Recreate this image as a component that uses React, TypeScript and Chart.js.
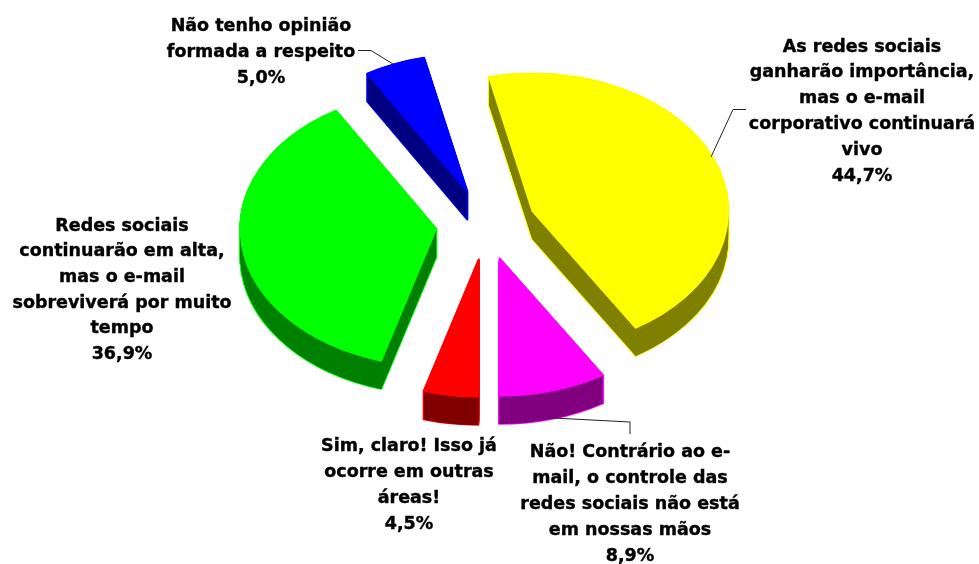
import React, { useEffect, useRef } from "react";
import { Chart, registerables } from "chart.js";

Chart.register(...registerables);

const categories: string[][] = [
  ["As redes sociais", "ganharão importância,", "mas o e-mail", "corporativo continuará", "vivo"],
  ["Não! Contrário ao e-", "mail, o controle das", "redes sociais não está", "em nossas mãos"],
  ["Sim, claro! Isso já", "ocorre em outras", "áreas!"],
  ["Redes sociais", "continuarão em alta,", "mas o e-mail", "sobreviverá por muito", "tempo"],
  ["Não tenho opinião", "formada a respeito"],
];
const values = [44.7, 8.9, 4.5, 36.9, 5.0];
const topColors = ["#ffff00", "#ff00ff", "#ff0000", "#00ff00", "#0000ff"];
const wallColors = ["#808000", "#800080", "#800000", "#008000", "#000080"];

// Layout of the projected pie
const RADIUS = 196;
const EXPLODE = 50;
const SQUASH = 0.703;
const DEPTH = 28;
const CENTER_X = 486;
const CENTER_Y = 224.5;
const FIRST_ANGLE = -12.8;

// Layout of the labels: centre x, first line y, line step
const labelPlaces = [
  { x: 862, y: 47, step: 25.8 },
  { x: 630, y: 452, step: 26.2 },
  { x: 409, y: 446, step: 26.3 },
  { x: 122, y: 226, step: 25.7 },
  { x: 261, y: 26, step: 26 },
];
const leaders = [
  [[711, 157], [733, 109.5], [746, 109.5]],
  [[553, 418], [630, 422], [630, 434]],
  null,
  null,
  [[358, 50.5], [371, 50.5], [393, 64]],
];

const FONT = "bold 17.5px 'DejaVu Sans'";

const pie3d = {
  id: "pie3d",
  beforeDatasetDraw(chart: any, args: any) {
    const { ctx, chartArea } = chart;
    const ox = (chartArea.left + chartArea.right) / 2;
    const oy = (chartArea.top + chartArea.bottom) / 2;
    const arcs = args.meta.data;
    const place = (arc: any, dy: number) => {
      const mid = (arc.startAngle + arc.endAngle) / 2;
      ctx.translate(CENTER_X, CENTER_Y + dy);
      ctx.scale(1, SQUASH);
      ctx.translate(Math.cos(mid) * EXPLODE - ox, Math.sin(mid) * EXPLODE - oy);
    };
    const stamp = (arc: any, dy: number, fill: string, border: string, width: number) => {
      const saved = arc.options;
      arc.options = Object.assign({}, saved, {
        backgroundColor: fill,
        borderColor: border,
        borderWidth: width,
        borderJoinStyle: "round",
      });
      ctx.save();
      place(arc, dy);
      arc.draw(ctx);
      ctx.restore();
      arc.options = saved;
    };
    arcs.forEach((arc: any, i: number) => {
      for (let d = DEPTH; d >= 0; d -= 1) {
        stamp(arc, d, topColors[i], topColors[i], 2);
      }
      for (let d = DEPTH; d >= 0; d -= 1) {
        stamp(arc, d, wallColors[i], wallColors[i], 0);
      }
      stamp(arc, 0, topColors[i], topColors[i], 1.5);
    });
    return false;
  },
  afterDraw(chart: any) {
    const { ctx } = chart;
    ctx.save();
    ctx.strokeStyle = "#222222";
    ctx.lineWidth = 1;
    leaders.forEach((path) => {
      if (!path) return;
      ctx.beginPath();
      path.forEach(([x, y], n) => (n ? ctx.lineTo(x, y) : ctx.moveTo(x, y)));
      ctx.stroke();
    });
    ctx.font = FONT;
    ctx.fillStyle = "#000000";
    ctx.strokeStyle = "#000000";
    ctx.lineWidth = 0.4;
    ctx.lineJoin = "round";
    ctx.textAlign = "center";
    ctx.textBaseline = "middle";
    categories.forEach((lines, i) => {
      const p = labelPlaces[i];
      const all = [...lines, values[i].toFixed(1).replace(".", ",") + "%"];
      all.forEach((line, n) => {
        ctx.fillText(line, p.x, p.y + n * p.step);
        ctx.strokeText(line, p.x, p.y + n * p.step);
      });
    });
    ctx.restore();
  },
};

export default function App() {
  const ref = useRef<HTMLCanvasElement>(null);
  useEffect(() => {
    const chart = new Chart(ref.current as HTMLCanvasElement, {
      type: "pie",
      data: {
        labels: categories.map((c) => c.join(" ")),
        datasets: [
          {
            data: values,
            backgroundColor: topColors,
            borderColor: topColors,
            borderWidth: 1,
            radius: RADIUS,
            rotation: FIRST_ANGLE,
            clip: false,
          } as any,
        ],
      },
      options: {
        responsive: false,
        animation: false,
        layout: { padding: 0 },
        plugins: { legend: { display: false }, tooltip: { enabled: false } },
      },
      plugins: [pie3d],
    });
    return () => chart.destroy();
  }, []);
  return (
    <div style={{ position: "absolute", left: 0, top: 0, width: 979, height: 564, background: "#fff" }}>
      <canvas ref={ref} width={979} height={564} style={{ display: "block" }} />
    </div>
  );
}
